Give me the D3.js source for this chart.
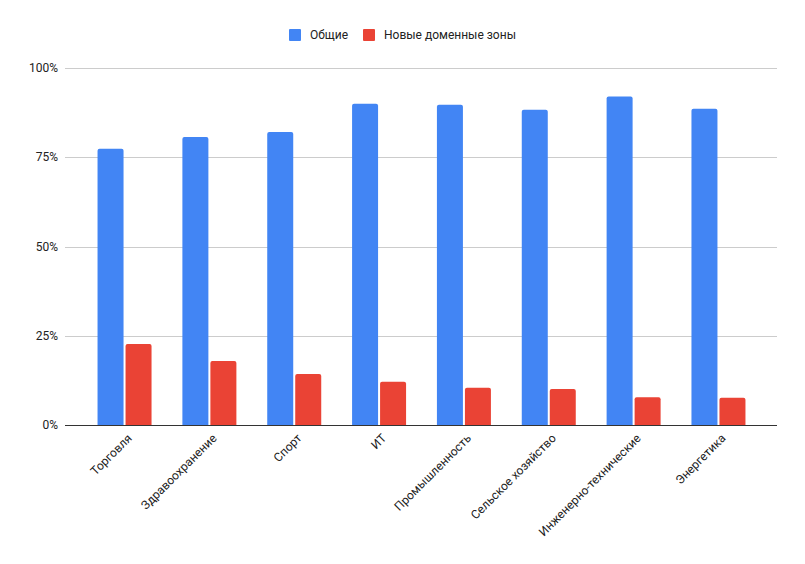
<!DOCTYPE html>
<html><head><meta charset="utf-8">
<script src="https://cdn.jsdelivr.net/npm/d3@7"></script>
<style>body{margin:0;background:#fff;} text{font-family:Roboto,Arial,sans-serif;}</style>
</head><body><svg id="c" width="805" height="564"></svg>
<script>
const categories = ["Торговля","Здравоохранение","Спорт","ИТ","Промышленность","Сельское хозяйство","Инженерно-технические","Энергетика"];
const seriesNames = ["Общие","Новые доменные зоны"];
const general = [77.4, 80.7, 82.1, 90.0, 89.7, 88.3, 92.0, 88.6];
const newZones = [22.7, 17.9, 14.3, 12.1, 10.4, 10.1, 7.8, 7.6];
const yTicks = [0, 25, 50, 75, 100];
const colors = ["#4285F4", "#EA4335"];

const svg = d3.select("#c");
const L = 65, R = 777, T = 68, B = 425;
const y = d3.scaleLinear().domain([0, 100]).range([B, T]);
const x0 = d3.scaleBand().domain(categories).range([L + 1, R]).paddingInner(0).paddingOuter(0.19);
const groupW = 54;
const x1 = d3.scaleBand().domain(seriesNames).range([0, groupW]).paddingInner(0.0714).paddingOuter(0);

// gridlines
svg.append("g").selectAll("line").data(yTicks.filter(d => d > 0)).join("line")
  .attr("x1", L).attr("x2", R).attr("y1", d => Math.round(y(d)) + 0.5).attr("y2", d => Math.round(y(d)) + 0.5)
  .attr("stroke", "#cccccc").attr("stroke-width", 1);

// y labels
svg.append("g").selectAll("text").data(yTicks).join("text")
  .attr("x", 58).attr("y", d => y(d)).attr("dy", "0.35em")
  .attr("text-anchor", "end").attr("font-size", 12).attr("fill", "#222")
  .text(d => d + "%");

function barPath(x, yTop, w, h, r) {
  r = Math.min(r, h, w / 2);
  return `M${x},${yTop + h}V${yTop + r}Q${x},${yTop} ${x + r},${yTop}H${x + w - r}Q${x + w},${yTop} ${x + w},${yTop + r}V${yTop + h}Z`;
}

const data = categories.map((c, i) => ({ c, vals: [general[i], newZones[i]] }));
const groups = svg.append("g").selectAll("g").data(data).join("g")
  .attr("transform", d => `translate(${x0(d.c) + (x0.bandwidth() - groupW) / 2},0)`);
groups.selectAll("path").data(d => d.vals.map((v, k) => ({ v, k }))).join("path")
  .attr("d", d => barPath(x1(seriesNames[d.k]), y(d.v), x1.bandwidth(), B - y(d.v), 2))
  .attr("fill", d => colors[d.k]);

// baseline
svg.append("line").attr("x1", L).attr("x2", R).attr("y1", B + 0.5).attr("y2", B + 0.5)
  .attr("stroke", "#333").attr("stroke-width", 1);

// x labels
svg.append("g").selectAll("text").data(categories).join("text")
  .attr("transform", c => `translate(${x0(c) + x0.bandwidth() / 2 + 8},${B + 14}) rotate(-45)`)
  .attr("text-anchor", "end").attr("font-size", 12).attr("fill", "#222")
  .text(c => c);

// legend
const leg = [{ x: 289, tx: 310 }, { x: 363, tx: 384 }];
const lg = svg.append("g").selectAll("g").data(seriesNames).join("g");
lg.append("rect").attr("x", (d, i) => leg[i].x).attr("y", 29).attr("width", 12).attr("height", 12)
  .attr("rx", 1).attr("fill", (d, i) => colors[i]);
lg.append("text").attr("x", (d, i) => leg[i].tx).attr("y", 35).attr("dy", "0.35em")
  .attr("font-size", 12).attr("fill", "#222").text(d => d);
</script></body></html>
